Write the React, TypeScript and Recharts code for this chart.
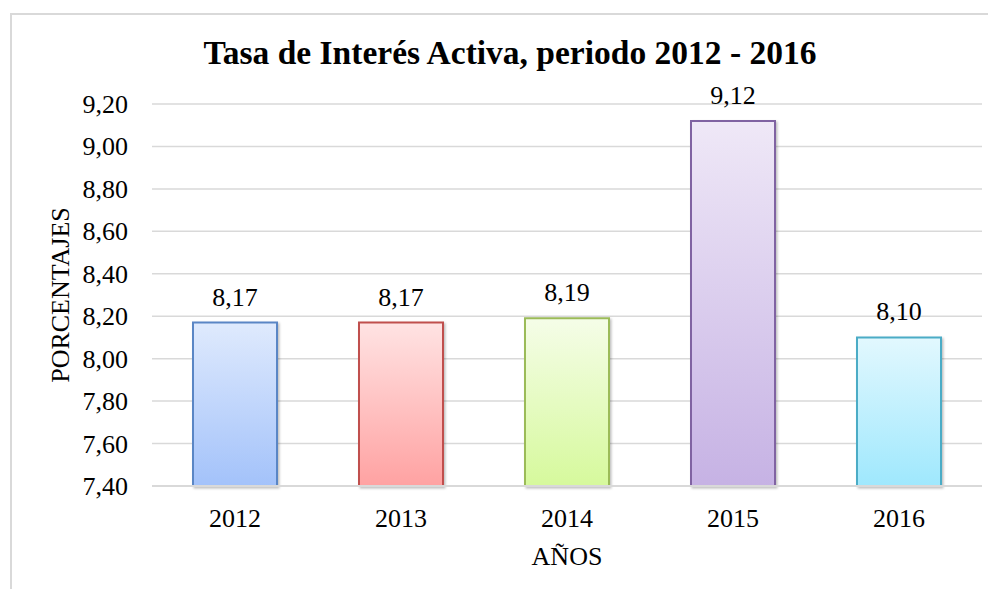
import { BarChart, Bar, XAxis, YAxis, CartesianGrid, Cell, LabelList, Label } from "recharts";

const years = ["2012", "2013", "2014", "2015", "2016"];
const rates = [8.17, 8.17, 8.19, 9.12, 8.1];
const yTicks = [7.4, 7.6, 7.8, 8.0, 8.2, 8.4, 8.6, 8.8, 9.0, 9.2];

// top / bottom gradient colours and border per bar
const topColors = ["#dfeafd", "#ffe3e3", "#f5fde8", "#efe8f7", "#e2f8fe"];
const bottomColors = ["#a3c2fa", "#ffa2a2", "#d6f99c", "#c6b2e4", "#9fe8fd"];
const borderColors = ["#5a86c5", "#c0504d", "#9bbb59", "#8064a2", "#4bacc6"];

const FONT = "Liberation Serif";

const data = years.map((year, i) => ({ year, rate: rates[i] }));

const fmt = (v: number) => v.toFixed(2).replace(".", ",");

const XTick = ({ x, y, payload }: any) => (
  <text x={x} y={y + 18.5} textAnchor="middle" fontFamily={FONT} fontSize={26} fill="#000">
    {payload.value}
  </text>
);

const YTick = ({ x, y, payload }: any) => (
  <text x={x} y={y + 9} textAnchor="end" fontFamily={FONT} fontSize={26} fill="#000">
    {fmt(payload.value)}
  </text>
);

const ValueLabel = ({ x, y, width, value }: any) => (
  <text x={x + width / 2} y={y - 17} textAnchor="middle" fontFamily={FONT} fontSize={26} fill="#000">
    {fmt(Number(value))}
  </text>
);

export default function App() {
  return (
    <div style={{ position: "relative", width: 996, height: 597, margin: -8, background: "#fff", overflow: "hidden" }}>
      <div
        style={{
          position: "absolute",
          left: 10,
          top: 13,
          width: 1100,
          height: 700,
          borderTop: "2px solid #d9d9d9",
          borderLeft: "2px solid #d9d9d9",
        }}
      />
      <svg width={996} height={80} style={{ position: "absolute", left: 0, top: 0 }}>
        <text x={510} y={64} textAnchor="middle" fontFamily={FONT} fontWeight="bold" fontSize={33.5} fill="#000">
          Tasa de Interés Activa, periodo 2012 - 2016
        </text>
      </svg>
      <div style={{ position: "absolute", left: 0, top: 0 }}>
        <BarChart width={996} height={597} data={data} margin={{ top: 104, right: 14, bottom: 0, left: 0 }}>
          <defs>
            {years.map((y, i) => (
              <linearGradient key={y} id={`g${i}`} x1="0" y1="0" x2="0" y2="1">
                <stop offset="0%" stopColor={topColors[i]} />
                <stop offset="100%" stopColor={bottomColors[i]} />
              </linearGradient>
            ))}
            <filter id="shadow" x="-10%" y="-10%" width="130%" height="130%">
              <feDropShadow dx="1.5" dy="1.5" stdDeviation="1.2" floodColor="#000" floodOpacity="0.25" />
            </filter>
          </defs>
          <CartesianGrid vertical={false} stroke="#d9d9d9" strokeWidth={1.5} />
          <XAxis
            dataKey="year"
            height={111}
            axisLine={{ stroke: "#d9d9d9", strokeWidth: 2 }}
            tickLine={false}
            tickSize={0}
            tickMargin={22}
            tick={<XTick />}
          >
            <Label
              content={({ viewBox }: any) => (
                <text
                  x={viewBox.x + viewBox.width / 2}
                  y={565}
                  textAnchor="middle"
                  fontFamily={FONT}
                  fontSize={26}
                  fill="#000"
                >
                  AÑOS
                </text>
              )}
            />
          </XAxis>
          <YAxis
            width={152}
            domain={[7.4, 9.2]}
            ticks={yTicks}
            interval={0}
            axisLine={false}
            tickLine={false}
            tickSize={0}
            tickMargin={24}
            tick={<YTick />}
          >
            <Label
              content={({ viewBox }: any) => {
                const cx = 60;
                const cy = viewBox.y + viewBox.height / 2;
                return (
                  <text
                    x={cx}
                    y={cy}
                    transform={`rotate(-90 ${cx} ${cy})`}
                    textAnchor="middle"
                    dominantBaseline="central"
                    fontFamily={FONT}
                    fontSize={26}
                    fill="#000"
                  >
                    PORCENTAJES
                  </text>
                );
              }}
            />
          </YAxis>
          <Bar dataKey="rate" barSize={84} isAnimationActive={false}>
            {data.map((d, i) => (
              <Cell
                key={d.year}
                fill={`url(#g${i})`}
                stroke={borderColors[i]}
                strokeWidth={2}
                filter="url(#shadow)"
              />
            ))}
            <LabelList dataKey="rate" content={<ValueLabel />} />
          </Bar>
        </BarChart>
      </div>
    </div>
  );
}
